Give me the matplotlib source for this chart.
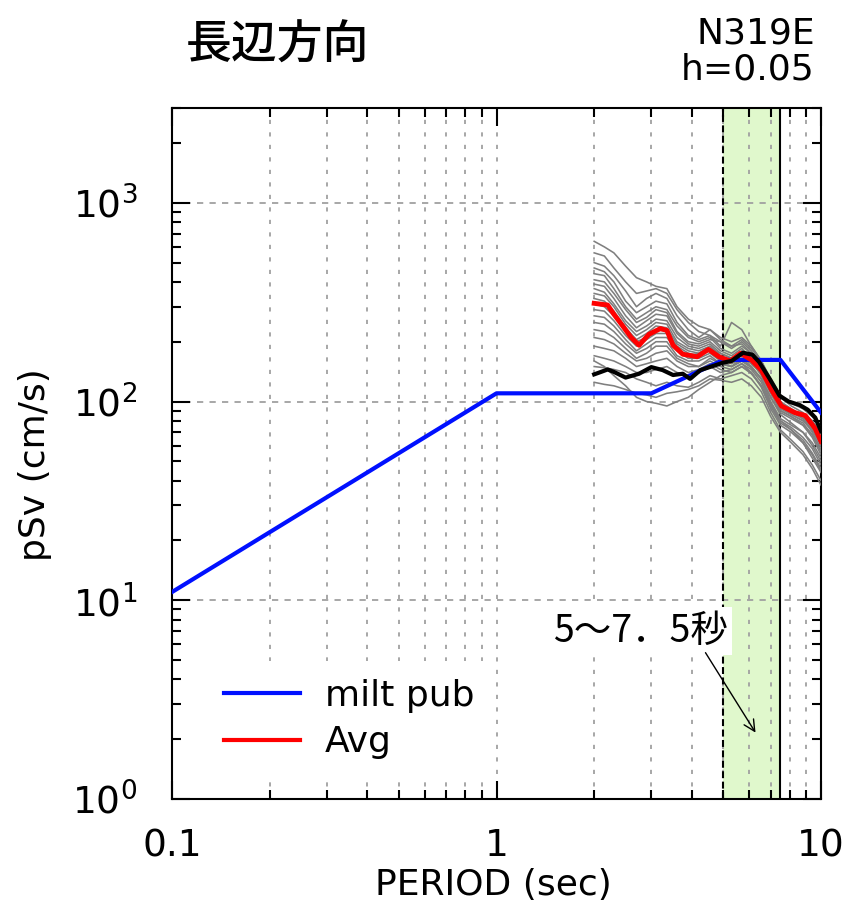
import numpy as np
import matplotlib.pyplot as plt
from matplotlib.lines import Line2D

plt.rcParams['lines.scale_dashes'] = False

# design spectrum (milt pub)
design_T = [0.1, 1.0, 3.0, 5.0, 7.5, 10.0]
design_sv = [11, 110, 110, 162, 162, 88]

# average of records
avg_T = [2.0, 2.2, 2.3, 2.45, 2.6, 2.75, 2.95, 3.2, 3.35, 3.5, 3.75, 4.0, 4.15,
         4.5, 4.85, 5.25, 5.65, 6.1, 6.55, 7.05, 7.55, 8.3, 8.95, 9.6, 10.0]
avg_sv = [312, 306, 275, 240, 210, 192, 218, 233, 228, 192, 173, 170, 168,
          183, 168, 160, 175, 162, 144, 114, 95, 88, 85, 73, 63]

# black record
obs_T = [2.0, 2.1, 2.2, 2.3, 2.5, 2.75, 3.0, 3.25, 3.5, 3.75, 3.95, 4.25, 4.65,
         5.0, 5.3, 5.75, 6.15, 6.45, 6.95, 7.45, 7.95, 8.6, 9.1, 9.6, 10.0]
obs_sv = [137, 141, 145, 141, 132, 138, 149, 144, 136, 138, 130, 144, 151,
          157, 160, 176, 172, 158, 130, 107, 100, 96, 91, 83, 71]

# individual records (gray)
rec_T = [2.0, 2.15, 2.3, 2.5, 2.7, 2.9, 3.1, 3.35, 3.6, 3.9, 4.2, 4.55, 4.9,
         5.3, 5.7, 6.1, 6.55, 7.0, 7.5, 8.1, 8.8, 9.4, 10.0]
rec_sv = [
    [640, 600, 560, 480, 420, 400, 380, 370, 300, 260, 240, 230, 210, 200, 210, 190, 160, 125, 100, 92, 85, 75, 62],
    [560, 540, 470, 400, 350, 360, 370, 350, 290, 250, 225, 215, 200, 185, 200, 180, 150, 120, 98, 90, 86, 80, 68],
    [500, 480, 430, 360, 300, 330, 350, 330, 270, 230, 210, 230, 205, 190, 195, 175, 155, 128, 105, 95, 88, 80, 70],
    [470, 450, 400, 320, 280, 300, 320, 310, 250, 215, 205, 215, 190, 250, 230, 190, 160, 130, 108, 98, 92, 84, 74],
    [440, 430, 370, 300, 260, 280, 300, 290, 240, 210, 200, 210, 185, 175, 190, 175, 150, 118, 95, 88, 82, 74, 64],
    [410, 400, 350, 290, 250, 265, 290, 280, 225, 200, 195, 205, 200, 190, 205, 185, 160, 125, 100, 90, 84, 76, 66],
    [390, 380, 330, 270, 235, 255, 275, 270, 220, 195, 190, 200, 180, 170, 185, 165, 140, 112, 92, 86, 80, 72, 60],
    [370, 355, 310, 255, 225, 240, 260, 255, 210, 190, 185, 195, 175, 165, 180, 170, 150, 120, 98, 90, 82, 70, 58],
    [350, 340, 300, 245, 215, 230, 250, 245, 200, 185, 180, 190, 170, 160, 175, 160, 135, 110, 90, 84, 78, 68, 56],
    [330, 320, 285, 235, 205, 220, 240, 235, 195, 180, 175, 185, 175, 165, 170, 155, 140, 115, 94, 86, 80, 72, 62],
    [310, 300, 270, 225, 200, 210, 230, 225, 190, 175, 170, 180, 165, 155, 165, 150, 130, 105, 88, 82, 76, 66, 54],
    [290, 285, 255, 215, 190, 205, 220, 220, 185, 170, 175, 190, 170, 160, 170, 160, 145, 118, 96, 88, 84, 78, 66],
    [270, 265, 240, 205, 180, 195, 210, 210, 180, 165, 165, 175, 160, 150, 160, 150, 130, 100, 82, 76, 70, 60, 50],
    [250, 245, 225, 195, 175, 185, 200, 200, 170, 160, 160, 170, 155, 150, 165, 155, 138, 112, 90, 84, 76, 68, 56],
    [230, 225, 210, 185, 165, 175, 190, 190, 165, 155, 150, 160, 150, 145, 155, 145, 125, 98, 80, 74, 66, 58, 48],
    [210, 205, 195, 175, 160, 165, 175, 180, 160, 150, 150, 165, 155, 150, 160, 148, 130, 105, 86, 78, 70, 62, 52],
    [190, 185, 180, 165, 150, 155, 160, 165, 150, 140, 145, 155, 145, 140, 150, 140, 120, 95, 78, 72, 64, 55, 46],
    [170, 165, 160, 150, 140, 140, 145, 150, 140, 135, 140, 150, 140, 145, 155, 140, 118, 92, 76, 70, 62, 52, 44],
    [150, 148, 145, 140, 130, 125, 120, 125, 120, 118, 125, 135, 130, 135, 140, 130, 112, 88, 72, 64, 56, 48, 40],
    [125, 122, 120, 115, 110, 108, 105, 110, 112, 115, 120, 130, 128, 125, 130, 120, 105, 84, 70, 62, 54, 46, 38],
    [160, 150, 135, 120, 105, 100, 98, 95, 100, 105, 115, 125, 135, 140, 150, 138, 120, 96, 80, 72, 62, 54, 45],
]

band = (5.0, 7.5)

fig = plt.figure(figsize=(8.48, 9.13), dpi=100)
ax = fig.add_axes([172/848, 1-799/913, (821-172)/848, (799-108)/913])
ax.set_xscale('log')
ax.set_yscale('log')
ax.set_xlim(0.1, 10)
ax.set_ylim(1, 3000)

ax.axvspan(band[0], band[1], color='#e0f8cc', zorder=0, lw=0)
ax.grid(which='both', axis='x', color='#a0a0a0', lw=1.3, linestyle=(0, (3, 6)))
ax.grid(which='major', axis='y', color='#a0a0a0', lw=1.3, linestyle=(0, (4.5, 4.5)))
ax.axvline(band[0], color='black', lw=1.5, linestyle=(0, (5, 2.5)), zorder=2)
ax.axvline(band[1], color='black', lw=1.5, zorder=2)

for sv in rec_sv:
    ax.plot(rec_T, sv, color='#7f7f7f', lw=1.15, zorder=3)
ax.plot(design_T, design_sv, color='#0010ff', lw=3.0, zorder=4)
ax.plot(avg_T, avg_sv, color='#ff0000', lw=3.5, zorder=5)
ax.plot(obs_T, obs_sv, color='black', lw=3.0, zorder=6)

for s in ax.spines.values():
    s.set_linewidth(1.5)
ax.tick_params(which='both', direction='in', top=True, right=True, width=1.5)
ax.tick_params(which='major', length=13)
ax.tick_params(which='minor', length=6.5)
ax.tick_params(axis='x', labelsize=27, pad=21)
ax.tick_params(axis='y', labelsize=27, pad=25)
ax.set_xticks([0.1, 1, 10])
ax.set_xticklabels(['0.1', '1', '10'])

fig.text(493/848, 1-885/913, 'PERIOD (sec)', fontsize=26, ha='center', va='center')
fig.text(35/848, 1-465/913, 'pSv (cm/s)', fontsize=26, rotation=90, ha='center', va='center')

handles = [Line2D([], [], color='#0010ff', lw=3), Line2D([], [], color='#ff0000', lw=3)]
ax.legend(handles, ['milt pub', 'Avg'], loc='upper left', bbox_to_anchor=(0.052, 0.2),
          fontsize=26, frameon=True, facecolor='white', edgecolor='none', framealpha=1,
          fancybox=False, borderpad=0.5, borderaxespad=0, handlelength=2.1,
          handletextpad=0.7, labelspacing=0.35)

ax.text(2.77, 7.0, '5～7．5秒', fontsize=27, family=['Noto Sans CJK JP', 'DejaVu Sans'],
        ha='center', va='center', zorder=8,
        bbox=dict(facecolor='white', edgecolor='none', pad=3))
ax.annotate('', xy=(6.35, 2.1), xytext=(4.36, 5.6), zorder=8,
            arrowprops=dict(arrowstyle='->', color='black', lw=1.0, mutation_scale=20))

fig.text(277/848, 1-45/913, '長辺方向', fontsize=33, family=['Noto Sans CJK JP', 'DejaVu Sans'],
         fontweight='medium', ha='center', va='center')
fig.text(815/848, 1-33/913, 'N319E', fontsize=26, ha='right', va='center')
fig.text(815/848, 1-70/913, 'h=0.05', fontsize=26, ha='right', va='center')

fig.savefig('out.png', dpi=100)
